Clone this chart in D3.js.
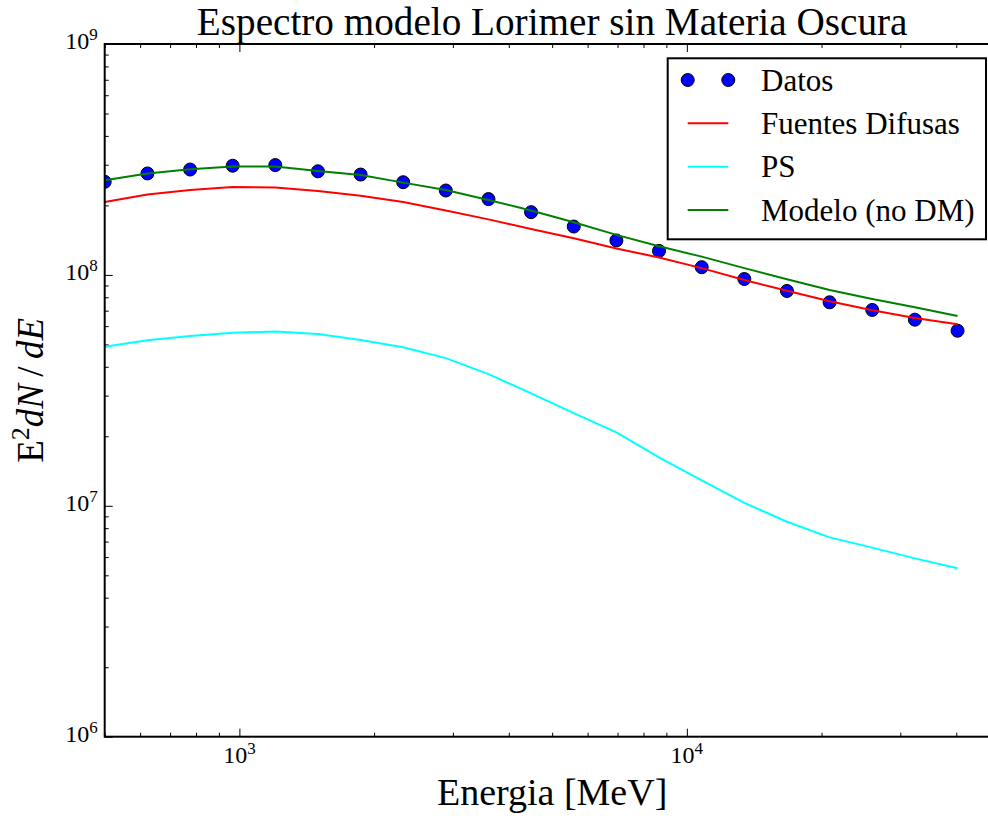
<!DOCTYPE html>
<html>
<head>
<meta charset="utf-8">
<script src="https://cdn.jsdelivr.net/npm/d3@7"></script>
<style>
  html, body { margin: 0; padding: 0; background: #fff; }
  svg { display: block; }
  text { font-family: "Liberation Serif", "DejaVu Serif", serif; fill: #000; }
</style>
</head>
<body>
<svg id="chart" width="988" height="816"></svg>
<script>
// ---- data ----
const energies = [500, 623, 776, 966, 1203, 1498, 1866, 2323, 2893, 3603, 4487, 5588, 6959, 8666, 10794, 13443, 16740, 20849, 25964, 32335, 40272];
const datos = [2.53e8, 2.75e8, 2.86e8, 2.97e8, 2.99e8, 2.81e8, 2.72e8, 2.52e8, 2.32e8, 2.13e8, 1.87e8, 1.62e8, 1.41e8, 1.27e8, 1.08e8, 9.60e7, 8.52e7, 7.61e7, 7.05e7, 6.40e7, 5.73e7];
const fuentesDifusas = [2.07e8, 2.23e8, 2.33e8, 2.40e8, 2.39e8, 2.31e8, 2.20e8, 2.07e8, 1.90e8, 1.74e8, 1.58e8, 1.44e8, 1.30e8, 1.19e8, 1.07e8, 9.50e7, 8.54e7, 7.69e7, 7.03e7, 6.51e7, 6.11e7];
const ps = [4.89e7, 5.21e7, 5.44e7, 5.62e7, 5.68e7, 5.55e7, 5.22e7, 4.86e7, 4.36e7, 3.72e7, 3.07e7, 2.52e7, 2.08e7, 1.62e7, 1.29e7, 1.03e7, 8.53e6, 7.30e6, 6.59e6, 5.92e6, 5.36e6];
const modelo = [2.57e8, 2.75e8, 2.87e8, 2.95e8, 2.95e8, 2.82e8, 2.71e8, 2.51e8, 2.33e8, 2.11e8, 1.90e8, 1.69e8, 1.49e8, 1.33e8, 1.20e8, 1.07e8, 9.57e7, 8.60e7, 7.86e7, 7.24e7, 6.64e7];

const xMajorExp = [3, 4];
const yMajorExp = [6, 7, 8, 9];
const legendLabels = ["Datos", "Fuentes Difusas", "PS", "Modelo (no DM)"];
const titleText = "Espectro modelo Lorimer sin Materia Oscura";
const xLabelText = "Energia [MeV]";

// ---- layout ----
const L = 104.7, R = 999.6, T = 44, B = 736.7;
const svg = d3.select("#chart");

const x = d3.scaleLog().domain([500, 50000]).range([L, R]);
const y = d3.scaleLog().domain([1e6, 1e9]).range([B, T]);

const xMinor = [];
for (let e = 2; e <= 4; e++) for (let m = 1; m <= 9; m++) {
  const v = m * Math.pow(10, e);
  if (v >= 500 && v <= 50000 && m !== 1) xMinor.push(v);
}
const yMinor = [];
for (let e = 6; e < 9; e++) for (let m = 2; m <= 9; m++) yMinor.push(m * Math.pow(10, e));
const xMajor = xMajorExp.map(e => Math.pow(10, e));
const yMajor = yMajorExp.map(e => Math.pow(10, e));

// clip
svg.append("defs").append("clipPath").attr("id", "clip")
  .append("rect").attr("x", L).attr("y", T).attr("width", R - L).attr("height", B - T);

// ---- axes ticks (inward) ----
function styleAxis(g) {
  g.select(".domain").remove();
  g.selectAll("line").attr("stroke", "#000").attr("stroke-width", 1);
  g.selectAll("text").remove();
}
svg.append("g").attr("transform", `translate(0,${B})`)
  .call(d3.axisBottom(x).tickValues(xMajor).tickSize(-8).tickFormat("")).call(styleAxis);
svg.append("g").attr("transform", `translate(0,${B})`)
  .call(d3.axisBottom(x).tickValues(xMinor).tickSize(-4).tickFormat("")).call(styleAxis);
svg.append("g").attr("transform", `translate(0,${T})`)
  .call(d3.axisTop(x).tickValues(xMajor).tickSize(-8).tickFormat("")).call(styleAxis);
svg.append("g").attr("transform", `translate(0,${T})`)
  .call(d3.axisTop(x).tickValues(xMinor).tickSize(-4).tickFormat("")).call(styleAxis);
svg.append("g").attr("transform", `translate(${L},0)`)
  .call(d3.axisLeft(y).tickValues(yMajor).tickSize(-8).tickFormat("")).call(styleAxis);
svg.append("g").attr("transform", `translate(${L},0)`)
  .call(d3.axisLeft(y).tickValues(yMinor).tickSize(-4).tickFormat("")).call(styleAxis);

// tick labels with superscripts
const xl = svg.append("g");
xMajorExp.forEach(e => {
  const t = xl.append("text").attr("x", x(Math.pow(10, e))).attr("y", B + 26)
    .attr("text-anchor", "middle").style("font-size", "24px");
  t.append("tspan").text("10");
  t.append("tspan").attr("dy", -9).style("font-size", "17px").text(e);
});
const yl = svg.append("g");
yMajorExp.forEach(e => {
  const t = yl.append("text").attr("x", L - 7).attr("y", y(Math.pow(10, e)) + 5)
    .attr("text-anchor", "end").style("font-size", "24px");
  t.append("tspan").text("10");
  t.append("tspan").attr("dy", -9).style("font-size", "17px").text(e);
});

// ---- marks ----
const plot = svg.append("g").attr("clip-path", "url(#clip)");
plot.selectAll("circle.dato").data(energies.map((e, i) => [e, datos[i]]))
  .enter().append("circle").attr("class", "dato")
  .attr("cx", d => x(d[0])).attr("cy", d => y(d[1])).attr("r", 6.5)
  .attr("fill", "#0000ff").attr("stroke", "#000").attr("stroke-width", 1);

const line = d3.line().x(d => x(d[0])).y(d => y(d[1]));
const seriesList = [
  { vals: fuentesDifusas, color: "#ff0000" },
  { vals: ps, color: "#00ffff" },
  { vals: modelo, color: "#008000" }
];
seriesList.forEach(s => {
  plot.append("path").datum(energies.map((e, i) => [e, s.vals[i]]))
    .attr("d", line).attr("fill", "none").attr("stroke", s.color).attr("stroke-width", 2);
});

// frame
svg.append("rect").attr("x", L).attr("y", T).attr("width", R - L).attr("height", B - T)
  .attr("fill", "none").attr("stroke", "#000").attr("stroke-width", 2);

// ---- titles ----
svg.append("text").attr("x", (L + R) / 2).attr("y", 35).attr("text-anchor", "middle")
  .style("font-size", "39.2px").text(titleText);
svg.append("text").attr("x", (L + R) / 2).attr("y", 805).attr("text-anchor", "middle")
  .style("font-size", "38px").text(xLabelText);
const ylab = svg.append("text").attr("transform", `translate(43,${(T + B) / 2}) rotate(-90)`)
  .attr("text-anchor", "middle").style("font-size", "37px");
ylab.append("tspan").text("E");
ylab.append("tspan").attr("dy", -14).style("font-size", "26px").text("2");
ylab.append("tspan").attr("dy", 14).style("font-style", "italic").text("dN");
ylab.append("tspan").text("\u2009/\u2009");
ylab.append("tspan").style("font-style", "italic").text("dE");

// ---- legend ----
const lg = svg.append("g");
lg.append("rect").attr("x", 667.7).attr("y", 58.3).attr("width", 318.3).attr("height", 181)
  .attr("fill", "#fff").attr("stroke", "#000").attr("stroke-width", 2);
const rowY = [80, 123.3, 166.7, 210];
const lx0 = 687.7, lx1 = 728.3;
[lx0, lx1].forEach(cx => {
  lg.append("circle").attr("cx", cx).attr("cy", rowY[0]).attr("r", 6.5)
    .attr("fill", "#0000ff").attr("stroke", "#000").attr("stroke-width", 1);
});
seriesList.forEach((s, i) => {
  lg.append("line").attr("x1", lx0).attr("x2", lx1).attr("y1", rowY[i + 1]).attr("y2", rowY[i + 1])
    .attr("stroke", s.color).attr("stroke-width", 2);
});
legendLabels.forEach((t, i) => {
  lg.append("text").attr("x", 761).attr("y", rowY[i] + 10.5).style("font-size", "31px").text(t);
});
</script>
</body>
</html>
